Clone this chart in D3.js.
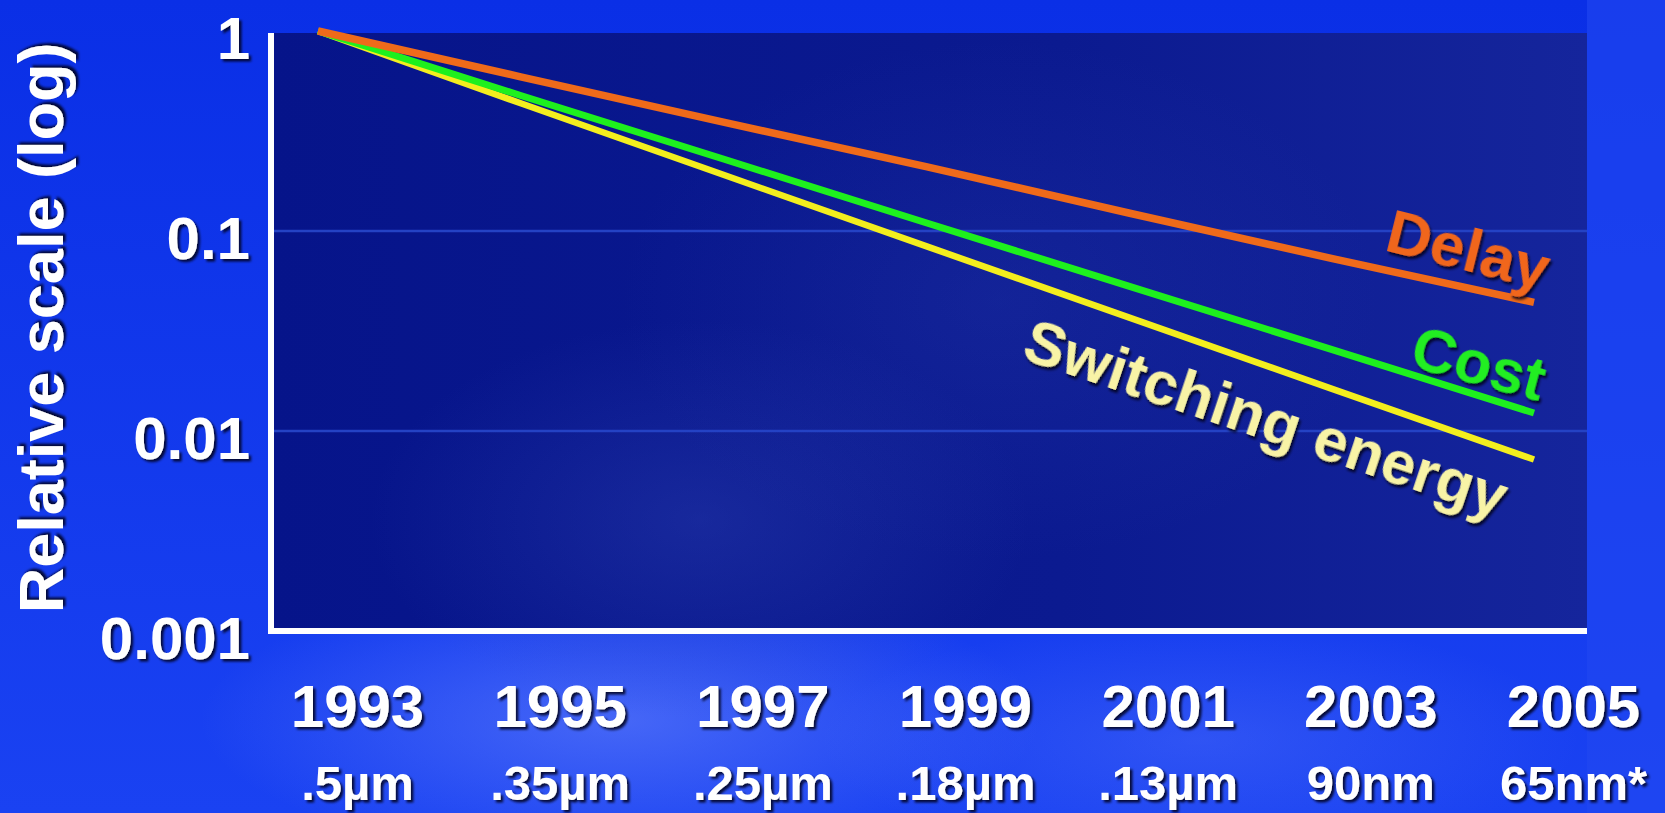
<!DOCTYPE html>
<html>
<head>
<meta charset="utf-8">
<script src="https://cdn.jsdelivr.net/npm/d3@7"></script>
<style>
  html, body { margin: 0; padding: 0; background: #0b2ee0; overflow: hidden; }
  svg { display: block; }
  text { font-family: "Liberation Sans", Arial, sans-serif; font-weight: bold; }
</style>
</head>
<body>
<svg id="chart" width="1665" height="813"></svg>
<script>
// Process generations and relative scaling of delay, cost and switching energy
const years = [1993, 1995, 1997, 1999, 2001, 2003, 2005];
const nodes = [".5µm", ".35µm", ".25µm", ".18µm", ".13µm", "90nm", "65nm*"];
const delay = [1, 0.59, 0.35, 0.21, 0.123, 0.073, 0.044];
const cost = [1, 0.476, 0.229, 0.11, 0.053, 0.0256, 0.0123];
const energy = [1, 0.435, 0.191, 0.084, 0.037, 0.0163, 0.0072];
const yTicks = [1, 0.1, 0.01, 0.001];
const yTickLabels = ["1", "0.1", "0.01", "0.001"];
const gridValues = [0.1, 0.01];

const series = [
  { name: "Switching energy", values: energy, color: "#f3ee1e", text: "#f8f3a6", width: 6.5 },
  { name: "Cost", values: cost, color: "#1ef01e", text: "#22ee22", width: 7 },
  { name: "Delay", values: delay, color: "#ef6a1a", text: "#f0661c", width: 7.5 }
];

const W = 1665, H = 813;
const frame = { left: 271, right: 1587, top: 33, bottom: 631 };

const svg = d3.select("#chart");
const defs = svg.append("defs");

// Backdrop gradients
const bg = defs.append("linearGradient").attr("id", "bg").attr("x1", 0).attr("y1", 0).attr("x2", 0).attr("y2", 1);
bg.append("stop").attr("offset", 0).attr("stop-color", "#0a2fe6");
bg.append("stop").attr("offset", 1).attr("stop-color", "#1a42f2");

const glow = defs.append("radialGradient").attr("id", "glow")
  .attr("cx", 0.5).attr("cy", 0.5).attr("r", 0.5);
glow.append("stop").attr("offset", 0).attr("stop-color", "#7d96ff").attr("stop-opacity", 0.45);
glow.append("stop").attr("offset", 1).attr("stop-color", "#7d96ff").attr("stop-opacity", 0);

const plotBg = defs.append("linearGradient").attr("id", "plotBg").attr("x1", 0).attr("y1", 0).attr("x2", 1).attr("y2", 0);
plotBg.append("stop").attr("offset", 0).attr("stop-color", "#06148a");
plotBg.append("stop").attr("offset", 0.6).attr("stop-color", "#0b1a90");
plotBg.append("stop").attr("offset", 1).attr("stop-color", "#15259c");

const plotGlow = defs.append("radialGradient").attr("id", "plotGlow")
  .attr("cx", 0.5).attr("cy", 0.5).attr("r", 0.5);
plotGlow.append("stop").attr("offset", 0).attr("stop-color", "#3348b8").attr("stop-opacity", 0.35);
plotGlow.append("stop").attr("offset", 1).attr("stop-color", "#3348b8").attr("stop-opacity", 0);

const shadow = defs.append("filter").attr("id", "shadow")
  .attr("x", "-10%").attr("y", "-10%").attr("width", "130%").attr("height", "140%");
shadow.append("feDropShadow").attr("dx", 2.5).attr("dy", 2.5).attr("stdDeviation", 0.8)
  .attr("flood-color", "#000018").attr("flood-opacity", 0.85);

svg.append("rect").attr("width", W).attr("height", H).attr("fill", "url(#bg)");
svg.append("rect").attr("x", frame.right).attr("y", 0).attr("width", W - frame.right).attr("height", H)
  .attr("fill", "#2248f2").attr("opacity", 0.6);
svg.append("ellipse").attr("cx", 620).attr("cy", 720).attr("rx", 420).attr("ry", 140).attr("fill", "url(#glow)");
svg.append("ellipse").attr("cx", 1200).attr("cy", 740).attr("rx", 380).attr("ry", 120).attr("fill", "url(#glow)").attr("opacity", 0.5);

// Plot panel
svg.append("rect")
  .attr("x", frame.left).attr("y", frame.top)
  .attr("width", frame.right - frame.left).attr("height", frame.bottom - frame.top)
  .attr("fill", "url(#plotBg)");
svg.append("ellipse").attr("cx", 700).attr("cy", 520).attr("rx", 330).attr("ry", 200).attr("fill", "url(#plotGlow)");
svg.append("ellipse").attr("cx", 1000).attr("cy", 300).attr("rx", 380).attr("ry", 260).attr("fill", "url(#plotGlow)").attr("opacity", 0.6);

// Scales
const x = d3.scaleLinear().domain([years[0], years[years.length - 1]]).range([318, 1534]);
const y = d3.scaleLog().domain([0.001, 1]).range([631, 31]);
const labelShift = 39;

// Gridlines
svg.append("g").selectAll("line").data(gridValues).join("line")
  .attr("x1", frame.left).attr("x2", frame.right)
  .attr("y1", d => y(d)).attr("y2", d => y(d))
  .attr("stroke", "#2442c4").attr("stroke-width", 2.5);

// Series lines
const line = d3.line().x((d, i) => x(years[i])).y(d => y(d));
svg.append("g").selectAll("path").data(series).join("path")
  .attr("d", d => line(d.values))
  .attr("fill", "none")
  .attr("stroke", d => d.color)
  .attr("stroke-width", d => d.width)
  .attr("stroke-linejoin", "round");

// Axis frame
svg.append("path")
  .attr("d", `M${frame.left},${frame.top}V${frame.bottom}H${frame.right}`)
  .attr("fill", "none").attr("stroke", "#ffffff").attr("stroke-width", 6);

// Y axis labels
const yAxis = d3.axisLeft(y).tickValues(yTicks).tickSize(0).tickPadding(0)
  .tickFormat((d, i) => yTickLabels[i]);
const gy = svg.append("g").attr("transform", "translate(250,0)").call(yAxis);
gy.select(".domain").remove();
gy.selectAll("text")
  .attr("fill", "#ffffff").attr("font-size", 60).attr("font-family", "Liberation Sans, Arial, sans-serif")
  .attr("font-weight", "bold").attr("dy", 27).attr("filter", "url(#shadow)");

// X axis labels: year and process node
const xAxis = d3.axisBottom(x).tickValues(years).tickSize(0).tickPadding(0).tickFormat(d3.format("d"));
const gx = svg.append("g").attr("transform", `translate(${labelShift},0)`).call(xAxis);
gx.select(".domain").remove();
gx.selectAll("text")
  .attr("y", 727).attr("dy", 0)
  .attr("fill", "#ffffff").attr("font-size", 60).attr("font-family", "Liberation Sans, Arial, sans-serif")
  .attr("font-weight", "bold").attr("filter", "url(#shadow)");
gx.selectAll(".tick").append("text")
  .text((d, i) => nodes[i])
  .attr("y", 800).attr("text-anchor", "middle")
  .attr("fill", "#ffffff").attr("font-size", 49).attr("font-family", "Liberation Sans, Arial, sans-serif")
  .attr("font-weight", "bold").attr("filter", "url(#shadow)");

// Y axis title
svg.append("text")
  .attr("transform", "translate(63,328) rotate(-90)")
  .attr("text-anchor", "middle")
  .attr("fill", "#ffffff").attr("font-size", 63)
  .attr("filter", "url(#shadow)")
  .text("Relative scale (log)");

// Series labels set along each line
const labelSpots = [
  { name: "Delay", x: 1383, y: 250, angle: 14, size: 62 },
  { name: "Cost", x: 1408, y: 366, angle: 15, size: 61 },
  { name: "Switching energy", x: 1020, y: 358, angle: 18.5, size: 61 }
];
svg.append("g").selectAll("text").data(labelSpots).join("text")
  .attr("transform", d => `translate(${d.x},${d.y}) rotate(${d.angle})`)
  .attr("fill", d => series.find(s => s.name === d.name).text)
  .attr("font-size", d => d.size)
  .attr("filter", "url(#shadow)")
  .text(d => d.name);
</script>
</body>
</html>
